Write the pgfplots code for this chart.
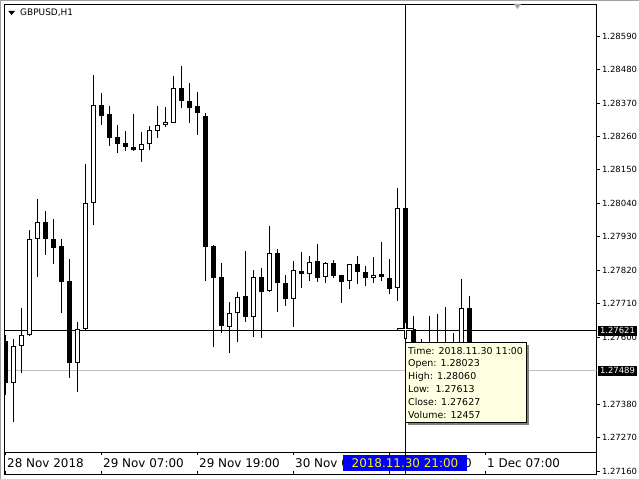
\documentclass[border=0pt]{standalone}
\usepackage{pgfplots}
\usepackage{pgfplotstable}
\pgfplotsset{compat=1.18}
\usepackage{fontspec}
\setmainfont{DejaVu Sans}
\definecolor{tipbg}{RGB}{255,255,225}
\definecolor{bidgray}{RGB}{192,192,192}
\definecolor{hlblue}{RGB}{0,0,255}
\definecolor{frame}{RGB}{160,160,160}

% k open high low close   (bearish candles)
\pgfplotstableread{
k o h l c
0 1.27588 1.27607 1.27410 1.27448
5 1.27979 1.28015 1.27870 1.27922
6 1.27922 1.27988 1.27841 1.27894
7 1.27900 1.27922 1.27680 1.27782
8 1.27785 1.27857 1.27465 1.27516
12 1.28363 1.28403 1.28297 1.28328
13 1.28334 1.28360 1.28228 1.28256
14 1.28258 1.28297 1.28205 1.28236
15 1.28238 1.28278 1.28212 1.28226
16 1.28225 1.28334 1.28212 1.28215
22 1.28419 1.28491 1.28353 1.28376
23 1.28376 1.28436 1.28304 1.28354
24 1.28360 1.28406 1.28265 1.28338
25 1.28327 1.28337 1.27786 1.27896
26 1.27900 1.27902 1.27567 1.27796
27 1.27798 1.27844 1.27615 1.27638
30 1.27735 1.27883 1.27649 1.27667
32 1.27798 1.27827 1.27598 1.27749
34 1.27876 1.27890 1.27684 1.27779
35 1.27777 1.27804 1.27703 1.27724
37 1.27816 1.27880 1.27763 1.27807
39 1.27849 1.27906 1.27782 1.27796
41 1.27844 1.27854 1.27796 1.27801
42 1.27803 1.27805 1.27711 1.27782
44 1.27840 1.27867 1.27774 1.27813
45 1.27814 1.27834 1.27767 1.27794
47 1.27807 1.27913 1.27784 1.27797
48 1.27795 1.27857 1.27741 1.27757
50 1.28023 1.28060 1.27613 1.27627
51 1.27627 1.27670 1.27541 1.27574
53 1.27581 1.27670 1.27525 1.27551
55 1.27578 1.27699 1.27538 1.27561
58 1.27696 1.27735 1.27470 1.27489
}\bear

% bullish candles
\pgfplotstableread{
k o h l c
1 1.27448 1.27593 1.27322 1.27571
2 1.27571 1.27695 1.27481 1.27606
3 1.27606 1.27952 1.27604 1.27922
4 1.27922 1.28053 1.27797 1.27978
9 1.27514 1.27649 1.27421 1.27626
10 1.27626 1.28169 1.27624 1.28040
11 1.28040 1.28461 1.27969 1.28362
17 1.28216 1.28274 1.28176 1.28234
18 1.28234 1.28294 1.28215 1.28281
19 1.28279 1.28360 1.28255 1.28297
20 1.28296 1.28357 1.28292 1.28307
21 1.28304 1.28459 1.28303 1.28419
28 1.27634 1.27716 1.27547 1.27678
29 1.27678 1.27748 1.27585 1.27731
31 1.27665 1.27821 1.27601 1.27797
33 1.27751 1.27965 1.27750 1.27876
36 1.27724 1.27850 1.27632 1.27820
38 1.27807 1.27867 1.27786 1.27846
40 1.27797 1.27846 1.27779 1.27843
43 1.27785 1.27842 1.27757 1.27840
46 1.27794 1.27863 1.27777 1.27803
49 1.27761 1.28090 1.27719 1.28023
52 1.27558 1.27594 1.27531 1.27581
54 1.27558 1.27676 1.27531 1.27578
56 1.27558 1.27614 1.27548 1.27571
57 1.27558 1.27791 1.27538 1.27696
}\bull

\def\pxp{0.000032874}

\begin{document}
\begin{tikzpicture}[x=1bp,y=1bp]
\path[use as bounding box, fill=white] (0,0) rectangle (640,480);
\begin{axis}[
  at={(4.5bp,5.5bp)}, anchor=south west,
  scale only axis, width=592bp, height=470bp,
  xmin=-0.1, xmax=73.9,
  ymin=1.271485, ymax=1.286936,
  xtick=\empty,
  axis line style={line width=1bp, black},
  ytick={1.27160,1.27270,1.27380,1.27600,1.27710,1.27820,1.27930,1.28040,1.28150,1.28260,1.28370,1.28480,1.28590},
  ytick pos=right, yticklabel pos=right,
  tick align=outside, major tick length=3bp,
  tick style={line width=0.8bp, black},
  yticklabel style={font=\fontsize{8.5}{10}\selectfont, anchor=west, xshift=-1bp},
  /pgf/number format/.cd, fixed, fixed zerofill, precision=5, assume math mode=true,
  /pgfplots/.cd,
  clip=true,
]
% bid line and crosshair
\addplot[bidgray, line width=1bp, forget plot] coordinates {(-0.1,1.27489) (73.9,1.27489)};
\addplot[black, line width=1bp, forget plot] coordinates {(-0.1,1.27621) (73.9,1.27621)};
\addplot[black, line width=1bp, forget plot] coordinates {(50,1.271485) (50,1.286936)};
% time strip separator
\addplot[black, line width=1bp, forget plot] coordinates {(-0.1,1.272215) (73.9,1.272215)};
% wicks
\addplot[draw=none, mark=none, forget plot, error bars/.cd, y dir=plus, y explicit, error mark=none,
  error bar style={draw=black, solid, line width=1bp}]
  table[x=k, y=l, y error expr=\thisrow{h}-\thisrow{l}] {\bear};
\addplot[draw=none, mark=none, forget plot, error bars/.cd, y dir=plus, y explicit, error mark=none,
  error bar style={draw=black, solid, line width=1bp}]
  table[x=k, y=l, y error expr=\thisrow{h}-\thisrow{l}] {\bull};
% black bodies
\addplot[draw=none, mark=none, forget plot, error bars/.cd, y dir=plus, y explicit, error mark=none,
  error bar style={draw=black, solid, line width=5bp}]
  table[x=k, y=c, y error expr={max(\thisrow{o}-\thisrow{c},\pxp)}] {\bear};
% white bodies: black outline then white inside
\addplot[draw=none, mark=none, forget plot, error bars/.cd, y dir=plus, y explicit, error mark=none,
  error bar style={draw=black, solid, line width=5bp}]
  table[x=k, y=o, y error expr={max(\thisrow{c}-\thisrow{o},\pxp)}] {\bull};
\addplot[draw=none, mark=none, forget plot, error bars/.cd, y dir=plus, y explicit, error mark=none,
  error bar style={draw=white, solid, line width=3bp}]
  table[x=k, y expr=\thisrow{o}+\pxp, y error expr={max(\thisrow{c}-\thisrow{o}-2*\pxp,0)}] {\bull};
\end{axis}

% window frame
\draw[frame, line width=1bp] (0.5,0) -- (0.5,479.5) -- (640,479.5);
\draw[gray!35, line width=1bp] (0,0.5) -- (639.5,0.5) -- (639.5,480);

% time strip ticks
\foreach \t in {5.3,101.3,197.3,293.3,389.3,485.3}{
  \draw[line width=1bp] (\t,27.7) -- (\t,24.5);
  \draw[line width=1bp] (\t,9) -- (\t,5.5);
}
\begin{scope}[font=\fontsize{12}{14}\selectfont]
\node[anchor=west, inner sep=0] at (7,16.5) {28 Nov 2018};
\node[anchor=west, inner sep=0] at (103,16.5) {29 Nov 07:00};
\node[anchor=west, inner sep=0] at (199,16.5) {29 Nov 19:00};
\node[anchor=west, inner sep=0] at (295,16.5) {30 Nov 07:00};
\node[anchor=west, inner sep=0] at (391,16.5) {30 Nov 19:00};
\node[anchor=west, inner sep=0] at (487,16.5) {1 Dec 07:00};
\fill[hlblue] (343,25) rectangle (467,9);
\node[text=yellow, inner sep=0] at (405,16.5) {2018.11.30 21:00};
\end{scope}
\draw[line width=1bp] (405.3,25) -- (405.3,5.5);

% price boxes
\fill[black] (598,154) rectangle (637,144.3);
\node[text=white, inner sep=0, font=\fontsize{8.5}{10}\selectfont] at (617.5,149.2) {1.27621};
\fill[black] (598,114.3) rectangle (637,104.3);
\node[text=white, inner sep=0, font=\fontsize{8.5}{10}\selectfont] at (617.5,109.3) {1.27489};

% cursor
\draw[black, line width=3bp] (397,150) -- (414,150) (405.3,158) -- (405.3,141);
\draw[white, line width=1bp] (398,150) -- (413,150) (405.3,157) -- (405.3,142);

% tooltip
\fill[gray] (407.7,135) rectangle (528.7,55.3);
\filldraw[fill=tipbg, draw=black, line width=1bp] (405.7,137) rectangle (526.7,57.3);
\begin{scope}[font=\fontsize{9.5}{11}\selectfont]
\node[anchor=west, inner sep=0] at (408,129.3) {Time: 2018.11.30 11:00};
\node[anchor=west, inner sep=0] at (408,116.4) {Open: 1.28023};
\node[anchor=west, inner sep=0] at (408,103.5) {High: 1.28060};
\node[anchor=west, inner sep=0] at (408,90.6) {Low:\ \ 1.27613};
\node[anchor=west, inner sep=0] at (408,77.7) {Close: 1.27627};
\node[anchor=west, inner sep=0] at (408,64.8) {Volume: 12457};
\end{scope}

% header
\fill[black] (8.3,469) -- (15,469) -- (11.65,465) -- cycle;
\node[anchor=west, inner sep=0, font=\fontsize{9}{11}\selectfont] at (20,467) {GBPUSD,H1};
\fill[gray!70] (514,476) -- (521,476) -- (517.5,471) -- cycle;
\end{tikzpicture}
\end{document}
